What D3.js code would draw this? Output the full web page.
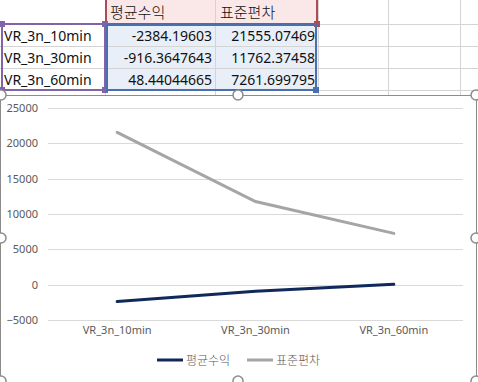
<!DOCTYPE html>
<html>
<head>
<meta charset="utf-8">
<script src="https://cdn.jsdelivr.net/npm/d3@7"></script>
<style>
  body { margin: 0; background: #fff; }
  svg { display: block; }
  text { font-family: "Noto Sans", "Noto Sans CJK KR", sans-serif; }
</style>
</head>
<body>
<div id="sheet"></div>
<script>
// Data
var categories = ["VR_3n_10min", "VR_3n_30min", "VR_3n_60min"],
    seriesNames = ["평균수익", "표준편차"],
    avgReturn = [-2384.19603, -916.3647643, 48.44044665],
    stdDev = [21555.07469, 11762.37458, 7261.699795],
    yTicks = [-5000, 0, 5000, 10000, 15000, 20000, 25000];

var seriesColors = ["#10295a", "#a5a5a5"];

var W = 478, H = 382;
var svg = d3.select("#sheet").append("svg").attr("width", W).attr("height", H);

// ---------- spreadsheet part ----------
var colX = [0, 105, 215, 318, 388, 460, 478],
    rowY = [0, 24, 46, 68, 90, 112];

// fills
svg.append("rect").attr("x", 105).attr("y", 0).attr("width", 213).attr("height", 24).attr("fill", "#fae7e7");
svg.append("rect").attr("x", 105).attr("y", 24).attr("width", 213).attr("height", 66).attr("fill", "#e9eff8");

// grid lines
colX.slice(1, -1).forEach(function (x) {
    svg.append("line").attr("x1", x + 0.5).attr("x2", x + 0.5).attr("y1", 0).attr("y2", 95)
        .attr("stroke", "#d4d4d4");
});
rowY.slice(1, -1).forEach(function (y) {
    svg.append("line").attr("x1", 0).attr("x2", W).attr("y1", y + 0.5).attr("y2", y + 0.5)
        .attr("stroke", "#d4d4d4");
});

// header row
seriesNames.forEach(function (name, i) {
    svg.append("text").attr("x", colX[i + 1] + 5).attr("y", 18)
        .attr("font-size", 15).attr("font-weight", 300).attr("fill", "#111").text(name);
});

// body rows
categories.forEach(function (c, r) {
    var y = rowY[r + 1] + 17;
    svg.append("text").attr("x", 4).attr("y", y).attr("font-size", 14).attr("fill", "#111").text(c);
    svg.append("text").attr("x", colX[2] - 3).attr("y", y).attr("text-anchor", "end")
        .attr("font-size", 14).attr("fill", "#111").text(String(avgReturn[r]));
    svg.append("text").attr("x", colX[3] - 3).attr("y", y).attr("text-anchor", "end")
        .attr("font-size", 14).attr("fill", "#111").text(String(stdDev[r]));
});

// selection highlight boxes
function box(x0, y0, x1, y1, col, handle) {
    svg.append("rect").attr("x", x0).attr("y", y0).attr("width", x1 - x0).attr("height", y1 - y0)
        .attr("fill", "none").attr("stroke", col).attr("stroke-width", 2);
    handle.forEach(function (p) {
        svg.append("rect").attr("x", p[0] - 3).attr("y", p[1] - 3).attr("width", 6).attr("height", 6)
            .attr("fill", col);
    });
}
box(106, -2, 317, 24, "#b04a55", [[317, 24]]);
box(2, 24, 105, 90, "#8063a8", [[2, 24], [105, 24], [2, 90], [105, 90]]);
box(107, 25, 316, 90, "#4a6fae", [[316, 90]]);

// ---------- chart part ----------
var chartTop = 95;
svg.append("rect").attr("x", 0.5).attr("y", chartTop + 0.5).attr("width", 476).attr("height", H)
    .attr("fill", "#fff").attr("stroke", "#8c8c8c");

var plot = { left: 48, right: 463, top: 108, bottom: 320 };

var xScale = d3.scaleBand().domain(categories).range([plot.left, plot.right]);
var yScale = d3.scaleLinear().domain([-5000, 25000]).range([plot.bottom, plot.top]);

// gridlines
svg.append("g").selectAll("line").data(yTicks).enter().append("line")
    .attr("x1", plot.left).attr("x2", plot.right)
    .attr("y1", function (d) { return Math.round(yScale(d)) + 0.5; })
    .attr("y2", function (d) { return Math.round(yScale(d)) + 0.5; })
    .attr("stroke", "#d9d9d9");

// y axis labels
var yAxis = d3.axisLeft(yScale).tickValues(yTicks).tickFormat(d3.format("d")).tickSize(0).tickPadding(0);
var yg = svg.append("g").attr("transform", "translate(38,0)").call(yAxis);
yg.select(".domain").remove();
yg.selectAll("text").attr("font-size", 11).attr("fill", "#595959")
    .style("font-family", "\"Noto Sans\", sans-serif");

// x axis labels
var xAxis = d3.axisBottom(xScale).tickSize(0).tickPadding(0);
var xg = svg.append("g").attr("transform", "translate(0," + (plot.bottom + 6) + ")").call(xAxis);
xg.select(".domain").remove();
xg.selectAll("text").attr("font-size", 11).attr("fill", "#595959")
    .style("font-family", "\"Noto Sans\", sans-serif");

// lines
var line = d3.line()
    .x(function (d, i) { return xScale(categories[i]) + xScale.bandwidth() / 2; })
    .y(function (d) { return yScale(d); });

[avgReturn, stdDev].forEach(function (vals, i) {
    svg.append("path").datum(vals).attr("d", line)
        .attr("fill", "none").attr("stroke", seriesColors[i])
        .attr("stroke-width", 3).attr("stroke-linecap", "round");
});

// legend
var legendX = [157, 247];
seriesNames.forEach(function (name, i) {
    var g = svg.append("g").attr("transform", "translate(" + legendX[i] + ",360)");
    g.append("line").attr("x1", 0).attr("x2", 26).attr("y1", 0).attr("y2", 0)
        .attr("stroke", seriesColors[i]).attr("stroke-width", 3);
    g.append("text").attr("x", 29).attr("y", 4.5).attr("font-size", 12).attr("font-weight", 300)
        .attr("fill", "#595959").text(name);
});

// chart selection handles
[[1, 95], [238, 95], [476, 95], [1, 238], [476, 238], [1, 381], [238, 381], [476, 381]].forEach(function (p) {
    svg.append("circle").attr("cx", p[0]).attr("cy", p[1]).attr("r", 5)
        .attr("fill", "#fff").attr("stroke", "#8c8c8c").attr("stroke-width", 1.5);
});
</script>
</body>
</html>
